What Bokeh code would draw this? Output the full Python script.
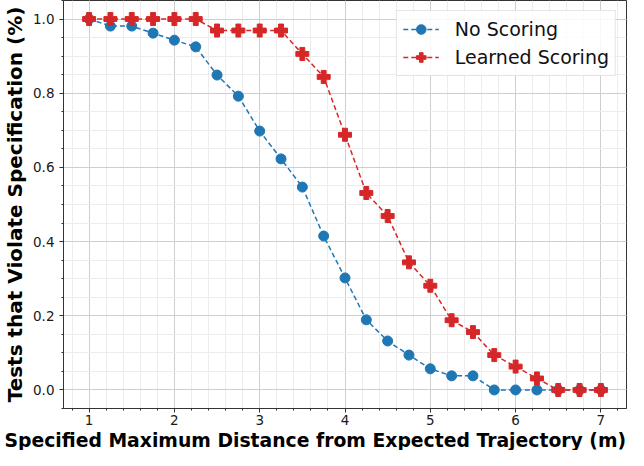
import numpy as np
from bokeh.plotting import figure
from bokeh.models import FixedTicker, Legend, LegendItem, Title
from bokeh.embed import file_html
from bokeh.resources import INLINE

# ---- data ----
distance = [1.0, 1.25, 1.5, 1.75, 2.0, 2.25, 2.5, 2.75, 3.0, 3.25, 3.5, 3.75, 4.0,
            4.25, 4.5, 4.75, 5.0, 5.25, 5.5, 5.75, 6.0, 6.25, 6.5, 6.75, 7.0]
no_scoring = [1.0, 0.981, 0.981, 0.962, 0.943, 0.925, 0.849, 0.792, 0.698, 0.623,
              0.547, 0.415, 0.302, 0.189, 0.132, 0.094, 0.057, 0.038, 0.038, 0.0,
              0.0, 0.0, 0.0, 0.0, 0.0]
learned_scoring = [1.0, 1.0, 1.0, 1.0, 1.0, 1.0, 0.969, 0.969, 0.969, 0.969,
                   0.906, 0.844, 0.688, 0.531, 0.469, 0.344, 0.281, 0.188, 0.156,
                   0.094, 0.063, 0.031, 0.0, 0.0, 0.0]
series_names = ["No Scoring", "Learned Scoring"]
x_ticks = [1, 2, 3, 4, 5, 6, 7]
x_tick_labels = ["1", "2", "3", "4", "5", "6", "7"]
y_ticks = [0.0, 0.2, 0.4, 0.6, 0.8, 1.0]
y_tick_labels = ["0.0", "0.2", "0.4", "0.6", "0.8", "1.0"]
x_label = "Specified Maximum Distance from Expected Trajectory (m)"
y_label = "Tests that Violate Specification (%)"

BLUE = "#1f77b4"
RED = "#d62728"
FONT = "DejaVu Sans"
LEFT_BORDER = 63

p = figure(width=628, height=450, x_range=(0.7, 7.3), y_range=(-0.05, 1.05),
           output_backend="svg", toolbar_location=None,
           min_border_top=0, min_border_right=2, min_border_left=LEFT_BORDER,
           min_border_bottom=0)

p.background_fill_color = "white"
p.border_fill_color = "white"
p.outline_line_color = "#333333"
p.outline_line_width = 1

x_minor = [round(v, 2) for v in np.arange(0.8, 7.3, 0.2)]
y_minor = [round(v, 2) for v in np.arange(-0.05, 1.06, 0.05)]
p.xaxis.ticker = FixedTicker(ticks=x_ticks, minor_ticks=x_minor)
p.yaxis.ticker = FixedTicker(ticks=y_ticks, minor_ticks=y_minor)
p.xaxis.major_label_overrides = {t: l for t, l in zip(x_ticks, x_tick_labels)}
p.yaxis.major_label_overrides = {t: l for t, l in zip(y_ticks, y_tick_labels)}

for ax in (p.xaxis, p.yaxis):
    ax.major_label_text_font = FONT
    ax.major_label_text_font_size = "13.5px"
    ax.major_label_text_color = "#1a1a1a"
    ax.axis_label_text_font = FONT
    ax.axis_label_text_font_size = "20px"
    ax.axis_label_text_font_style = "bold"
    ax.axis_label_text_color = "#000000"
    ax.axis_line_color = "#333333"
    ax.major_tick_line_color = "#333333"
    ax.minor_tick_line_color = "#333333"
    ax.major_tick_out = 4
    ax.major_tick_in = 0
    ax.minor_tick_out = 2
    ax.minor_tick_in = 0

p.xaxis.major_label_standoff = 2
p.yaxis.major_label_standoff = 5
p.yaxis.axis_label_standoff = 3
p.yaxis.axis_label = y_label

# x-axis label as a bottom title so it can start near the left edge and fit
xtitle = Title(text=x_label, align="left", offset=4 - LEFT_BORDER,
               text_font=FONT, text_font_size="18.8px", text_font_style="bold",
               text_color="#000000", standoff=0, vertical_align="bottom")
p.add_layout(xtitle, "below")

p.xgrid.ticker = FixedTicker(ticks=x_ticks, minor_ticks=x_minor)
p.ygrid.ticker = FixedTicker(ticks=y_ticks, minor_ticks=y_minor)
for g in (p.xgrid, p.ygrid):
    g.grid_line_color = "#cfcfcf"
    g.grid_line_width = 1
    g.minor_grid_line_color = "#ececec"
    g.minor_grid_line_width = 1

l1 = p.line(distance, no_scoring, line_color=BLUE, line_width=1.5, line_dash="5 3")
s1 = p.scatter(distance, no_scoring, marker="circle", size=10,
               fill_color=BLUE, line_color=BLUE)
l2 = p.line(distance, learned_scoring, line_color=RED, line_width=1.5, line_dash="5 3")
s2 = p.scatter(distance, learned_scoring, marker="plus", size=13,
               fill_color=RED, line_color=RED)

legend = Legend(items=[LegendItem(label=series_names[0], renderers=[l1, s1]),
                       LegendItem(label=series_names[1], renderers=[l2, s2])],
                location="top_right")
legend.label_text_font = FONT
legend.label_text_font_size = "19px"
legend.label_text_color = "#111111"
legend.glyph_width = 36
legend.glyph_height = 24
legend.label_height = 24
legend.label_standoff = 16
legend.spacing = 4
legend.padding = 6
legend.margin = 10
legend.border_line_color = "#cccccc"
legend.border_line_width = 1
legend.background_fill_alpha = 0.85
p.add_layout(legend)

open("out.html", "w").write(file_html(p, INLINE))
